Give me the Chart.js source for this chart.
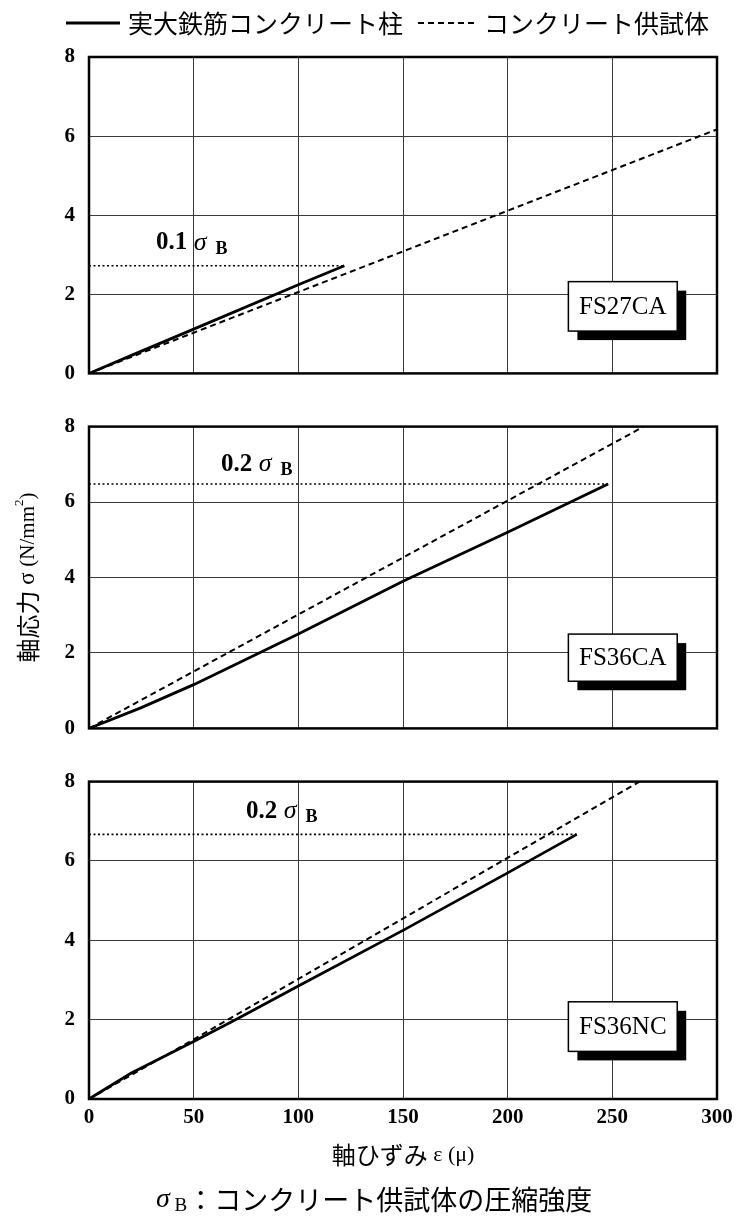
<!DOCTYPE html>
<html lang="ja">
<head>
<meta charset="utf-8">
<title>軸応力-軸ひずみ関係</title>
<script src="https://cdn.jsdelivr.net/npm/chart.js@4.4.1/dist/chart.umd.min.js"></script>
<style>
  html, body { margin: 0; padding: 0; background: #fff; }
  #page { position: relative; width: 742px; height: 1217px; }
  #page canvas { position: absolute; left: 0; }
</style>
</head>
<body>
<div id="page">
  <canvas id="panel1" width="742" height="400" style="top:0px"></canvas>
  <canvas id="panel2" width="742" height="355" style="top:400px"></canvas>
  <canvas id="panel3" width="742" height="462" style="top:755px"></canvas>
</div>
<script>
const SERIF = '"Liberation Serif", "DejaVu Serif", serif';
const GOTHIC = '"Noto Sans CJK JP", "Noto Sans CJK SC", sans-serif';

// 目盛 (軸ひずみ μ / 軸応力 N/mm2)
const strainTicks = [0, 50, 100, 150, 200, 250, 300];
const stressTicks = [0, 2, 4, 6, 8];

const seriesNames = ['実大鉄筋コンクリート柱', 'コンクリート供試体'];
const specimens = ['FS27CA', 'FS36CA', 'FS36NC'];
const levelLabels = ['0.1', '0.2', '0.2'];

// FS27CA
const fs27caStrain = [0, 20, 50, 100, 122];
const fs27caStress = [0, 0.45, 1.12, 2.24, 2.72];
const fs27caCylStrain = [0, 300];
const fs27caCylStress = [0, 6.17];

// FS36CA
const fs36caStrain = [0, 25, 50, 100, 150, 200, 248];
const fs36caStress = [0, 0.55, 1.16, 2.5, 3.9, 5.2, 6.48];
const fs36caCylStrain = [0, 265];
const fs36caCylStress = [0, 8];

// FS36NC
const fs36ncStrain = [0, 20, 50, 70, 100, 150, 200, 233];
const fs36ncStress = [0, 0.65, 1.45, 2.0, 2.85, 4.25, 5.7, 6.67];
const fs36ncCylStrain = [0, 50, 263];
const fs36ncCylStress = [0, 1.5, 8];

// 0.1σB / 0.2σB の載荷レベル
const levelStress = [2.72, 6.48, 6.67];

const pts = (xs, ys) => xs.map((v, i) => ({ x: v, y: ys[i] }));

function drawRich(ctx, parts, x, y, align) {
    let w = 0;
    parts.forEach(p => { ctx.font = p.font; w += ctx.measureText(p.t).width; });
    let cx = align === 'center' ? x - w / 2 : x;
    ctx.textAlign = 'left';
    ctx.textBaseline = 'middle';
    parts.forEach(p => {
        ctx.font = p.font;
        ctx.fillText(p.t, cx, y + (p.dy || 0));
        cx += ctx.measureText(p.t).width;
    });
}

const panelDecor = {
    id: 'panelDecor',
    afterDatasetsDraw(chart, args, o) {
        const { ctx, chartArea: a, scales: { x, y } } = chart;
        ctx.save();
        ctx.fillStyle = '#000';

        if (o.level) {
            drawRich(ctx, [
                { t: o.level.text, font: `bold 25px ${SERIF}` },
                { t: ' σ', font: `italic 26px ${SERIF}` },
                { t: '  B', font: `bold 18px ${SERIF}`, dy: 6 }
            ], x.getPixelForValue(o.level.x), y.getPixelForValue(o.level.y), 'left');
        }

        // 試験体名 (影付きの箱)
        if (o.box) {
            const bx = x.getPixelForValue(o.box.x0);
            const by = y.getPixelForValue(o.box.y0);
            const bw = x.getPixelForValue(o.box.x1) - bx;
            const bh = y.getPixelForValue(o.box.y1) - by;
            ctx.fillStyle = '#000';
            ctx.fillRect(bx + 9, by + 9, bw, bh);
            ctx.fillStyle = '#fff';
            ctx.fillRect(bx, by, bw, bh);
            ctx.strokeStyle = '#000';
            ctx.lineWidth = 1.5;
            ctx.strokeRect(bx, by, bw, bh);
            ctx.fillStyle = '#000';
            ctx.font = `25px ${SERIF}`;
            ctx.textAlign = 'center';
            ctx.textBaseline = 'middle';
            ctx.fillText(o.box.text, bx + bw / 2, by + bh / 2 + 1);
        }

        ctx.strokeStyle = '#000';
        ctx.lineWidth = 2.5;
        ctx.strokeRect(a.left, a.top, a.right - a.left, a.bottom - a.top);
        ctx.restore();
    },
    afterDraw(chart, args, o) {
        const { ctx, chartArea: a } = chart;
        ctx.save();
        ctx.fillStyle = '#000';

        if (o.legend) {
            o.legend.forEach((item, i) => {
                const ds = chart.data.datasets[i];
                ctx.strokeStyle = '#000';
                ctx.lineWidth = ds.borderWidth;
                ctx.setLineDash(ds.borderDash || []);
                ctx.beginPath();
                ctx.moveTo(item.x0, item.y);
                ctx.lineTo(item.x1, item.y);
                ctx.stroke();
                ctx.setLineDash([]);
                ctx.font = `25px ${GOTHIC}`;
                ctx.textAlign = 'left';
                ctx.textBaseline = 'middle';
                ctx.fillText(ds.label, item.tx, item.y);
            });
        }

        if (o.yTitle) {
            ctx.translate(o.yTitle.x, (a.top + a.bottom) / 2);
            ctx.rotate(-Math.PI / 2);
            drawRich(ctx, [
                { t: '軸応力', font: `24px ${GOTHIC}` },
                { t: ' σ ', font: `23px ${SERIF}` },
                { t: '(N/mm', font: `21px ${SERIF}` },
                { t: '2', font: `13px ${SERIF}`, dy: -8 },
                { t: ')', font: `21px ${SERIF}` }
            ], 0, 0, 'center');
            ctx.setTransform(1, 0, 0, 1, 0, 0);
        }

        if (o.xTitle) {
            drawRich(ctx, [
                { t: '軸ひずみ', font: `24px ${GOTHIC}` },
                { t: ' ε (μ)', font: `22px ${SERIF}` }
            ], (a.left + a.right) / 2, a.bottom + o.xTitle.dy, 'center');
        }

        if (o.caption) {
            drawRich(ctx, [
                { t: 'σ', font: `italic 28px ${SERIF}` },
                { t: ' B', font: `19px ${SERIF}`, dy: 6 },
                { t: '：コンクリート供試体の圧縮強度', font: `27px ${GOTHIC}` }
            ], o.caption.x, a.bottom + o.caption.dy, 'left');
        }
        ctx.restore();
    }
};

const gridStyle = { color: '#3a3a3a', lineWidth: 1, drawTicks: false };
const tickFont = { family: SERIF, size: 21, weight: 'bold' };

function makePanel(id, idx, strain, stress, cylStrain, cylStress, padding, showX, decor) {
    const levelEnd = strain[strain.length - 1];
    return new Chart(document.getElementById(id), {
        type: 'line',
        data: {
            datasets: [
                {
                    label: seriesNames[0],
                    data: pts(strain, stress),
                    borderColor: '#000',
                    borderWidth: 2.8,
                    pointRadius: 0
                },
                {
                    label: seriesNames[1],
                    data: pts(cylStrain, cylStress),
                    borderColor: '#000',
                    borderWidth: 2,
                    borderDash: [6, 4],
                    pointRadius: 0
                },
                {
                    label: levelLabels[idx] + 'σB',
                    data: pts([0, levelEnd], [levelStress[idx], levelStress[idx]]),
                    borderColor: '#000',
                    borderWidth: 1.6,
                    borderDash: [2, 2.5],
                    pointRadius: 0
                }
            ]
        },
        options: {
            responsive: false,
            animation: false,
            events: [],
            layout: { padding },
            scales: {
                x: {
                    type: 'linear', min: 0, max: 300,
                    afterBuildTicks: s => { s.ticks = strainTicks.map(v => ({ value: v })); },
                    afterFit: s => { s.height = showX ? 118 : 0; },
                    grid: gridStyle,
                    border: { display: false },
                    ticks: { display: showX, color: '#000', font: tickFont, padding: 6, maxRotation: 0 }
                },
                y: {
                    type: 'linear', min: 0, max: 8,
                    afterBuildTicks: s => { s.ticks = stressTicks.map(v => ({ value: v })); },
                    afterFit: s => { s.width = 89; },
                    grid: gridStyle,
                    border: { display: false },
                    ticks: { color: '#000', font: tickFont, padding: 14 }
                }
            },
            plugins: {
                legend: { display: false },
                tooltip: { enabled: false },
                panelDecor: decor
            }
        },
        plugins: [panelDecor]
    });
}

makePanel('panel1', 0, fs27caStrain, fs27caStress, fs27caCylStrain, fs27caCylStress,
    { top: 57, right: 25, bottom: 11, left: 0 }, false, {
        level: { text: levelLabels[0], x: 32, y: 3.3 },
        box: { text: specimens[0], x0: 229, x1: 281, y0: 2.32, y1: 1.07 },
        legend: [
            { x0: 66, x1: 120, y: 23, tx: 128 },
            { x0: 418, x1: 475, y: 23, tx: 484 }
        ]
    });

makePanel('panel2', 1, fs36caStrain, fs36caStress, fs36caCylStrain, fs36caCylStress,
    { top: 11, right: 25, bottom: 12, left: 0 }, false, {
        level: { text: levelLabels[1], x: 63, y: 7.0 },
        box: { text: specimens[1], x0: 229, x1: 281, y0: 2.5, y1: 1.25 },
        yTitle: { x: 28 }
    });

makePanel('panel3', 2, fs36ncStrain, fs36ncStress, fs36ncCylStrain, fs36ncCylStress,
    { top: 11, right: 25, bottom: 0, left: 0 }, true, {
        level: { text: levelLabels[2], x: 75, y: 7.25 },
        box: { text: specimens[2], x0: 229, x1: 281, y0: 2.45, y1: 1.2 },
        xTitle: { dy: 56 },
        caption: { x: 156, dy: 101 }
    });
</script>
</body>
</html>
